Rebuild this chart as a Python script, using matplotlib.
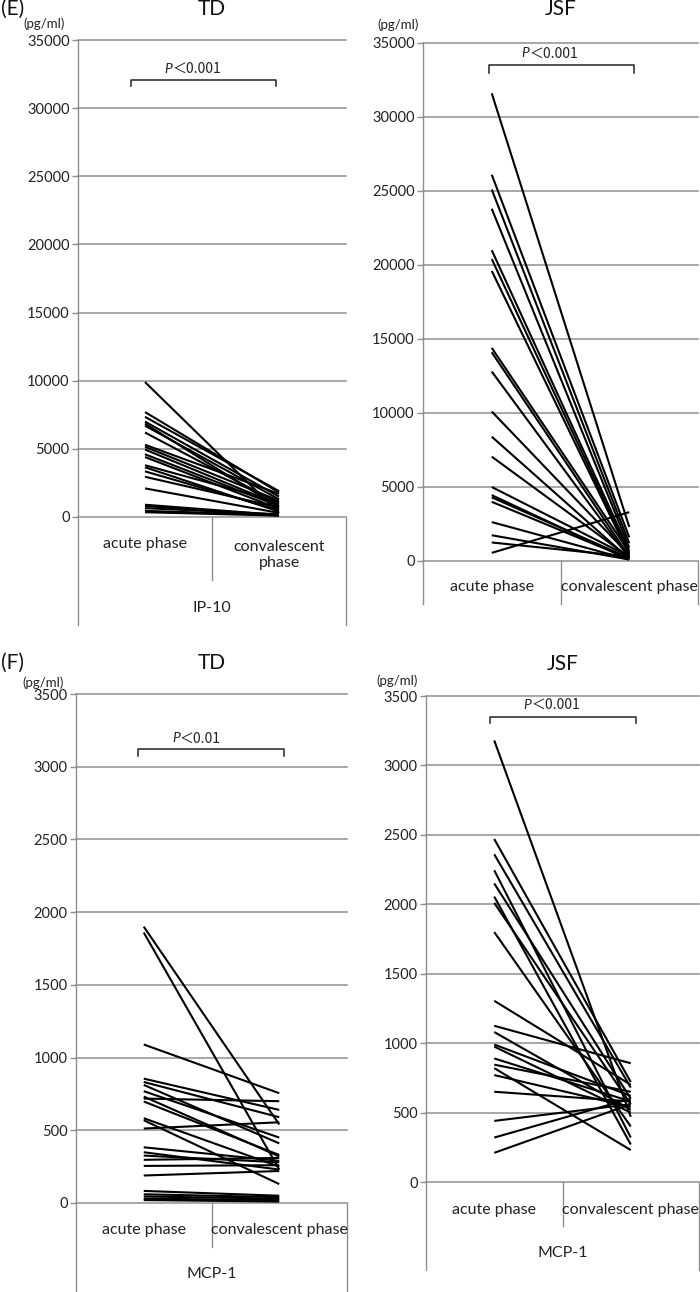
import matplotlib
matplotlib.use("Agg")
import matplotlib.pyplot as plt
from matplotlib.lines import Line2D
import matplotlib.transforms as mtransforms

# ---------------- data ----------------
categories = ["acute phase", "convalescent phase"]

# (E) IP-10, TD
td_ip10_acute = [9900, 7700, 7350, 7000, 6850, 6700, 6200, 5300, 5150, 4950, 4600,
                 4400, 3800, 3650, 3350, 2950, 2100, 900, 800, 650, 450, 350]
td_ip10_conv = [300, 1800, 1900, 1500, 700, 1300, 1000, 1700, 1200, 900, 800,
                600, 1100, 400, 500, 700, 300, 150, 100, 200, 150, 100]

# (E) IP-10, JSF
jsf_ip10_acute = [31600, 26100, 25100, 23800, 21000, 20400, 19600, 14400, 14100, 12800,
                  10100, 8400, 7050, 5000, 4450, 4300, 4000, 2630, 1740, 1250, 550]
jsf_ip10_conv = [2300, 1600, 1200, 900, 700, 500, 400, 600, 300, 200,
                 400, 150, 250, 300, 100, 200, 150, 100, 100, 300, 3300]

# (F) MCP-1, TD
td_mcp1_acute = [1900, 1860, 1090, 855, 832, 812, 769, 732, 718, 698, 583, 569,
                 512, 383, 349, 326, 297, 255, 189, 83, 60, 45, 30, 20]
td_mcp1_conv = [540, 230, 755, 640, 590, 410, 450, 320, 700, 330, 250, 130,
                555, 290, 230, 280, 310, 260, 220, 50, 40, 30, 20, 10]

# (F) MCP-1, JSF
jsf_mcp1_acute = [3180, 2470, 2360, 2245, 2150, 2055, 2010, 1800, 1305, 1125, 1080,
                  990, 975, 890, 845, 820, 770, 650, 440, 320, 210]
jsf_mcp1_conv = [470, 720, 680, 320, 600, 270, 560, 400, 700, 855, 520,
                 620, 500, 580, 650, 230, 540, 580, 560, 600, 560]

# ---------------- style / layout ----------------
W, H = 700, 1292
GRAY = "#8f8f8f"
FONT = ["Lato", "DejaVu Sans"]
CJK = ["Noto Sans CJK JP", "DejaVu Sans"]
plt.rcParams["font.family"] = FONT

fig = plt.figure(figsize=(W / 100, H / 100), dpi=100)


def fx(x):
    return x / W


def fy(y):
    return 1 - y / H


def vline(x, y0, y1):
    fig.add_artist(Line2D([fx(x), fx(x)], [fy(y0), fy(y1)], color=GRAY, lw=1.0,
                          transform=fig.transFigure))


def panel(acute, conv, ymax, step, box, cat_y, wrap, line_end, div_end,
          group, group_y, title, title_y, unit_xy, bracket, ptext):
    l, r, t, b = box
    ax = fig.add_axes([fx(l), fy(b), fx(r) - fx(l), fy(t) - fy(b)])
    ax.set_xlim(0, 2)
    ax.set_ylim(0, ymax)
    for a, c in zip(acute, conv):
        ax.plot([0.5, 1.5], [a, c], color="black", lw=1.5, solid_capstyle="butt",
                zorder=3)
    ticks = list(range(0, ymax + 1, step))
    ax.set_yticks(ticks)
    ax.set_yticklabels([str(v) for v in ticks])
    ax.set_xticks([])
    for v in ticks:
        ax.axhline(v, color=GRAY, lw=1.1, zorder=1, clip_on=False)
    for s in ["top", "right", "bottom"]:
        ax.spines[s].set_visible(False)
    ax.spines["left"].set_color(GRAY)
    ax.spines["left"].set_linewidth(1.0)
    ax.tick_params(axis="y", length=4, color=GRAY, width=1.0, pad=2,
                   labelsize=10.5, labelcolor="#222222")
    ax.patch.set_alpha(0)

    # category box below the axis
    vline(l, b, line_end)
    vline(r, b, line_end)
    xm = (l + r) / 2
    vline(xm, b, div_end)
    xa = l + (r - l) * 0.25
    xc = l + (r - l) * 0.75
    fs = 11.5
    fig.text(fx(xa), fy(cat_y), categories[0], ha="center", va="center",
             fontsize=fs, color="#222222")
    if wrap:
        fig.text(fx(xc), fy(cat_y + 11), "convalescent\nphase", ha="center",
                 va="center", fontsize=fs, color="#222222", linespacing=1.2)
    else:
        fig.text(fx(xc), fy(cat_y), categories[1], ha="center", va="center",
                 fontsize=fs, color="#222222")
    if group:
        fig.text(fx(xm), fy(group_y), group, ha="center", va="center",
                 fontsize=fs, color="#222222")

    fig.text(fx(xm), fy(title_y), title, ha="center", va="center", fontsize=15,
             color="#111111")
    fig.text(fx(unit_xy[0]), fy(unit_xy[1]), "(pg/ml)", ha="center", va="center",
             fontsize=9.5, color="#222222")

    # significance bracket
    x0, x1, yb, ytk, ytxt, xtxt = bracket
    ax.plot([x0, x0, x1, x1], [ytk, yb, yb, ytk], color="#222222", lw=1.1,
            clip_on=False, zorder=4)
    tr = ax.transData
    off = mtransforms.offset_copy(tr, fig=fig, x=-22, y=0, units="points")
    ax.text(xtxt, ytxt, "P", transform=off, ha="right", va="center",
            fontsize=10, style="italic", color="#222222")
    ax.text(xtxt, ytxt, "＜" + ptext, transform=off, ha="left", va="center",
            fontsize=10, color="#222222", family=CJK)
    return ax


panel(td_ip10_acute, td_ip10_conv, 35000, 5000, (78, 346, 40, 517),
      cat_y=544, wrap=True, line_end=625, div_end=580, group="IP-10", group_y=608,
      title="TD", title_y=9, unit_xy=(44, 24),
      bracket=(0.396, 1.478, 32100, 31600, 32900, 0.93), ptext="0.001")

panel(jsf_ip10_acute, jsf_ip10_conv, 35000, 5000, (423, 698, 43, 561),
      cat_y=587, wrap=False, line_end=604, div_end=604, group=None, group_y=0,
      title="JSF", title_y=9, unit_xy=(398, 25),
      bracket=(0.48, 1.535, 33500, 33000, 34300, 0.997), ptext="0.001")

panel(td_mcp1_acute, td_mcp1_conv, 3500, 500, (76, 347, 694, 1203),
      cat_y=1230, wrap=False, line_end=1292, div_end=1247, group="MCP-1",
      group_y=1274, title="TD", title_y=663, unit_xy=(43, 683),
      bracket=(0.458, 1.535, 3122, 3074, 3195, 0.99), ptext="0.01")

panel(jsf_mcp1_acute, jsf_mcp1_conv, 3500, 500, (426, 699, 696, 1182),
      cat_y=1210, wrap=False, line_end=1270, div_end=1226, group="MCP-1",
      group_y=1253, title="JSF", title_y=664, unit_xy=(397, 681),
      bracket=(0.469, 1.538, 3348, 3305, 3435, 0.996), ptext="0.001")

fig.text(fx(1), fy(9), "(E)", ha="left", va="center", fontsize=15, color="#111111")
fig.text(fx(1), fy(663), "(F)", ha="left", va="center", fontsize=15, color="#111111")

fig.savefig("out.png", dpi=100)
